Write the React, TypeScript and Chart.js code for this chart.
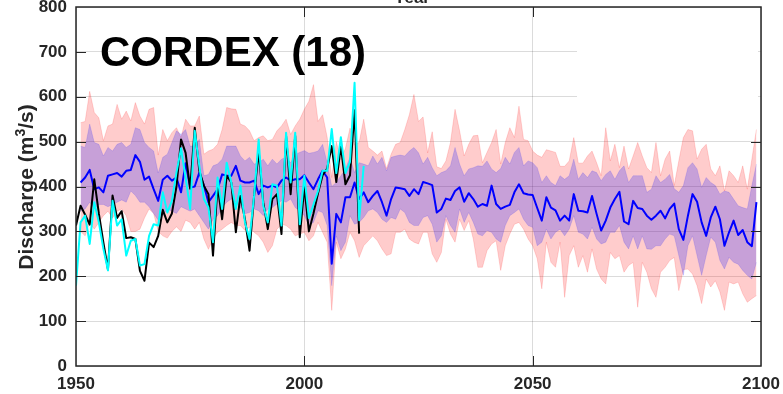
import React, { useEffect, useRef } from "react";
import { Chart, registerables } from "chart.js";

Chart.register(...registerables);

// ---- Data ----
const modelStartYear = 1951; // ensemble statistics 1951-2099
const obsStartYear = 1950; // observed series

const xTickValues = [1950, 2000, 2050, 2100];
const yTickValues = [0, 100, 200, 300, 400, 500, 600, 700, 800];

// ensemble maximum (pink band, upper edge)
const pinkUpper = [
  542, 545, 612, 565, 553, 502, 535, 539, 583, 550,
  568, 546, 587, 557, 539, 572, 576, 470, 527, 502,
  520, 531, 509, 550, 535, 535, 557, 472, 479, 483,
  494, 527, 576, 573, 572, 539, 535, 524, 502, 509,
  513, 502, 505, 524, 535, 550, 516, 535, 550, 572,
  590, 627, 545, 560, 510, 420, 500, 460, 485, 530,
  494, 498, 550, 487, 479, 470, 479, 440, 472, 494,
  498, 527, 560, 605, 545, 555, 475, 522, 444, 440,
  457, 498, 572, 524, 468, 494, 513, 514, 453, 476,
  498, 527, 450, 498, 531, 509, 579, 505, 502, 479,
  470, 465, 482, 479, 476, 445, 445, 457, 509, 452,
  452, 468, 479, 453, 424, 531, 457, 494, 442, 490,
  439, 468, 498, 468, 442, 431, 498, 424, 461, 479,
  402, 457, 509, 527, 524, 461, 483, 494, 439, 424,
  446, 390, 435, 424, 409, 446, 394, 461, 527,
];

// ensemble minimum (pink band, lower edge)
const pinkLower = [
  300, 290, 320, 305, 320, 335, 345, 330, 345, 350,
  335, 300, 300, 305, 330, 350, 340, 300, 290, 285,
  300, 310, 300, 325, 320, 305, 320, 283, 260, 283,
  298, 305, 313, 320, 313, 313, 302, 309, 298, 290,
  276, 253, 268, 305, 316, 313, 305, 290, 294, 298,
  279, 290, 320, 298, 276, 124, 276, 239, 261, 298,
  279, 242, 268, 279, 290, 279, 261, 246, 250, 298,
  298, 305, 283, 276, 272, 298, 298, 250, 231, 253,
  327, 294, 276, 327, 302, 324, 283, 220, 220, 257,
  272, 279, 213, 268, 294, 316, 320, 305, 283, 268,
  239, 172, 276, 231, 220, 276, 153, 246, 268, 220,
  246, 209, 261, 216, 194, 183, 253, 239, 246, 209,
  224, 231, 131, 231, 209, 172, 153, 209, 220, 235,
  242, 168, 215, 216, 205, 179, 139, 194, 176, 190,
  165, 124, 187, 183, 187, 161, 142, 150, 157,
];

// inner range (purple band, upper edge)
const purpleUpper = [
  490, 487, 539, 498, 494, 468, 487, 479, 494, 498,
  487, 494, 531, 527, 498, 487, 479, 430, 465, 472,
  498, 524, 516, 527, 490, 490, 505, 424, 427, 446,
  450, 461, 490, 490, 490, 468, 457, 465, 450, 453,
  461, 446, 461, 450, 461, 465, 453, 472, 476, 480,
  474, 476, 479, 494, 453, 400, 409, 424, 439, 465,
  431, 453, 450, 446, 468, 450, 465, 435, 465, 468,
  470, 468, 479, 487, 475, 450, 465, 442, 424, 431,
  435, 446, 487, 450, 424, 439, 442, 446, 445, 457,
  439, 431, 440, 465, 450, 476, 487, 446, 457, 453,
  442, 409, 424, 409, 402, 424, 416, 424, 461, 416,
  431, 420, 435, 431, 413, 427, 435, 416, 435, 446,
  409, 424, 424, 424, 387, 394, 424, 409, 416, 427,
  395, 387, 402, 442, 453, 439, 398, 420, 409, 402,
  383, 390, 387, 372, 357, 353, 350, 402, 450,
];

// inner range (purple band, lower edge)
const purpleLower = [
  345, 350, 365, 350, 360, 360, 355, 360, 365, 370,
  365, 390, 380, 365, 365, 355, 340, 325, 335, 350,
  345, 340, 355, 350, 345, 350, 335, 320, 305, 327,
  335, 353, 365, 372, 365, 353, 339, 342, 350, 346,
  335, 350, 353, 361, 368, 365, 372, 353, 346, 335,
  313, 320, 346, 342, 313, 179, 290, 257, 276, 335,
  316, 320, 331, 346, 350, 342, 327, 320, 331, 327,
  350, 342, 320, 313, 313, 331, 335, 316, 276, 290,
  335, 313, 298, 350, 320, 342, 320, 294, 290, 302,
  298, 283, 276, 313, 335, 342, 350, 327, 313, 309,
  268, 276, 305, 283, 298, 305, 290, 305, 335, 298,
  294, 283, 309, 283, 272, 276, 298, 298, 313, 276,
  261, 290, 261, 290, 261, 260, 268, 268, 283, 294,
  290, 246, 202, 268, 290, 246, 202, 246, 287, 276,
  235, 216, 242, 231, 227, 213, 202, 194, 231,
];

// ensemble mean (blue line)
const ensembleMean = [
  409, 420, 437, 394, 398, 387, 424, 427, 430, 422,
  435, 437, 470, 455, 415, 422, 394, 368, 415, 424,
  413, 420, 387, 452, 398, 400, 431, 402, 365, 379,
  394, 427, 424, 424, 446, 413, 409, 409, 413, 383,
  402, 398, 402, 398, 413, 420, 413, 416, 416, 425,
  409, 394, 416, 435, 420, 228, 339, 320, 376, 376,
  409, 372, 387, 365, 379, 390, 365, 335, 372, 398,
  396, 394, 379, 394, 383, 410, 407, 403, 342, 350,
  373, 370, 390, 398, 366, 385, 372, 355, 361, 357,
  402, 361, 350, 355, 359, 387, 405, 385, 382, 381,
  352, 324, 376, 353, 347, 324, 335, 324, 383, 346,
  345, 342, 379, 339, 302, 324, 353, 372, 388, 322,
  316, 368, 352, 350, 335, 326, 335, 346, 329, 350,
  362, 305, 281, 335, 383, 366, 320, 290, 331, 355,
  327, 268, 298, 324, 292, 303, 276, 267, 365,
];

// observed discharge (black line) 1950-2012
const observedBlack = [
  313, 357, 337, 315, 416, 340, 275, 215, 380, 330,
  345, 285, 287, 283, 212, 190, 275, 265, 290, 348,
  320, 340, 400, 505, 475, 395, 531, 435, 402, 383,
  246, 402, 327, 424, 409, 298, 379, 327, 257, 379,
  479, 365, 305, 372, 383, 294, 513, 383, 513, 287,
  400, 300, 340, 385, 425, 440, 490, 410, 490, 405,
  425, 570, 295,
];

// second reference series (cyan line) 1950-2013
const observedCyan = [
  179, 320, 335, 272, 365, 320, 261, 213, 368, 313,
  327, 246, 279, 283, 224, 227, 290, 316, 313, 387,
  342, 368, 431, 485, 420, 350, 524, 446, 372, 353,
  276, 420, 350, 453, 409, 350, 402, 320, 283, 379,
  505, 357, 320, 405, 402, 313, 520, 409, 520, 316,
  424, 330, 360, 390, 435, 435, 528, 430, 510, 430,
  455, 631, 325, 446,
];

const FONT = '"Liberation Sans", Arial, Helvetica, sans-serif';
const AXIS_COLOR = "#262626";

const toPoints = (start: number, values: number[]) =>
  values.map((v, i) => ({ x: start + i, y: v }));

const overlayPlugin = {
  id: "overlayPlugin",
  beforeDatasetsDraw(chart: any) {
    const { ctx } = chart;
    ctx.save();
    ctx.fillStyle = "#ffffff";
    ctx.fillRect(577, 8, 181, 111);
    ctx.restore();
  },
  afterDraw(chart: any) {
    const { ctx, chartArea: ca, scales } = chart;
    const xs = scales.x;
    const ys = scales.y;
    ctx.save();
    ctx.strokeStyle = AXIS_COLOR;
    ctx.lineWidth = 1;
    const tl = 10;
    ctx.beginPath();
    for (const v of yTickValues) {
      if (v <= 0 || v >= 800) continue;
      const py = Math.round(ys.getPixelForValue(v)) + 0.5;
      ctx.moveTo(ca.left, py);
      ctx.lineTo(ca.left + tl, py);
      if (py > 125) {
        ctx.moveTo(ca.right, py);
        ctx.lineTo(ca.right - tl, py);
      }
    }
    for (const v of xTickValues) {
      if (v <= 1950 || v >= 2100) continue;
      const px = Math.round(xs.getPixelForValue(v)) + 0.5;
      ctx.moveTo(px, ca.bottom);
      ctx.lineTo(px, ca.bottom - tl);
      ctx.moveTo(px, ca.top);
      ctx.lineTo(px, ca.top + tl);
    }
    ctx.stroke();

    ctx.lineWidth = 1.5;
    ctx.strokeRect(ca.left, ca.top, ca.right - ca.left, ca.bottom - ca.top);

    // big label
    ctx.fillStyle = "#000000";
    ctx.font = `bold 42px ${FONT}`;
    ctx.textAlign = "left";
    ctx.textBaseline = "alphabetic";
    ctx.fillText("CORDEX (18)", 100, 66);

    // x-axis title (top, mostly cut off)
    ctx.fillStyle = AXIS_COLOR;
    ctx.font = `bold 17px ${FONT}`;
    ctx.textAlign = "center";
    ctx.fillText("Year", 412, 2.5);

    // y-axis title with superscript
    ctx.translate(33, 187);
    ctx.rotate(-Math.PI / 2);
    const mainFont = `bold 21px ${FONT}`;
    const supFont = `bold 14px ${FONT}`;
    const p1 = "Discharge (m";
    const p2 = "3";
    const p3 = "/s)";
    ctx.font = mainFont;
    const w1 = ctx.measureText(p1).width;
    const w3 = ctx.measureText(p3).width;
    ctx.font = supFont;
    const w2 = ctx.measureText(p2).width;
    const total = w1 + w2 + w3;
    let x0 = -total / 2;
    ctx.textAlign = "left";
    ctx.font = mainFont;
    ctx.fillText(p1, x0, 0);
    x0 += w1;
    ctx.font = supFont;
    ctx.fillText(p2, x0, -8);
    x0 += w2;
    ctx.font = mainFont;
    ctx.fillText(p3, x0, 0);
    ctx.restore();
  },
};

export default function App() {
  const canvasRef = useRef<HTMLCanvasElement | null>(null);

  useEffect(() => {
    const canvas = canvasRef.current;
    if (!canvas) return;

    const gridColor = "rgba(0,0,0,0.14)";
    const tickFont = { family: FONT, size: 17, weight: "bold" as const };

    const chart = new Chart(canvas, {
      type: "line",
      data: {
        datasets: [
          {
            label: "max",
            data: toPoints(modelStartYear, pinkUpper),
            borderColor: "rgba(255,0,0,0.22)",
            borderWidth: 0.7,
            backgroundColor: "rgba(255,0,0,0.2)",
            fill: "+1",
            pointRadius: 0,
            order: 5,
          },
          {
            label: "min",
            data: toPoints(modelStartYear, pinkLower),
            borderColor: "rgba(255,0,0,0.22)",
            borderWidth: 0.7,
            fill: false,
            pointRadius: 0,
            order: 5,
          },
          {
            label: "upper",
            data: toPoints(modelStartYear, purpleUpper),
            borderColor: "rgba(0,0,255,0.18)",
            borderWidth: 0.7,
            backgroundColor: "rgba(0,0,255,0.22)",
            fill: "+1",
            pointRadius: 0,
            order: 4,
          },
          {
            label: "lower",
            data: toPoints(modelStartYear, purpleLower),
            borderColor: "rgba(0,0,255,0.18)",
            borderWidth: 0.7,
            fill: false,
            pointRadius: 0,
            order: 4,
          },
          {
            label: "mean",
            data: toPoints(modelStartYear, ensembleMean),
            borderColor: "#0000ff",
            borderWidth: 2,
            fill: false,
            pointRadius: 0,
            borderJoinStyle: "round",
            order: 2,
          },
          {
            label: "observed",
            data: toPoints(obsStartYear, observedBlack),
            borderColor: "#000000",
            borderWidth: 2,
            fill: false,
            pointRadius: 0,
            borderJoinStyle: "round",
            order: 1,
          },
          {
            label: "reference",
            data: toPoints(obsStartYear, observedCyan),
            borderColor: "#00ffff",
            borderWidth: 2,
            fill: false,
            pointRadius: 0,
            borderJoinStyle: "round",
            order: 0,
          },
        ],
      },
      options: {
        responsive: false,
        animation: false,
        events: [],
        layout: { padding: { top: 7, right: 22, left: 0, bottom: 0 } },
        plugins: {
          legend: { display: false },
          tooltip: { enabled: false },
          title: { display: false },
        },
        elements: { line: { tension: 0 }, point: { radius: 0 } },
        scales: {
          x: {
            type: "linear",
            min: 1950,
            max: 2100,
            afterFit: (s: any) => {
              s.height = 28;
              s.paddingLeft = 0;
              s.paddingRight = 0;
            },
            afterBuildTicks: (s: any) => {
              s.ticks = xTickValues.map((v) => ({ value: v }));
            },
            ticks: {
              padding: 8,
              color: AXIS_COLOR,
              font: tickFont,
              maxRotation: 0,
              autoSkip: false,
              callback: (v: any) => String(v),
            },
            grid: { color: gridColor, lineWidth: 1, drawTicks: false },
            border: { display: false },
          },
          y: {
            type: "linear",
            min: 0,
            max: 800,
            afterFit: (s: any) => {
              s.width = 76;
              s.paddingTop = 0;
              s.paddingBottom = 0;
            },
            afterBuildTicks: (s: any) => {
              s.ticks = yTickValues.map((v) => ({ value: v }));
            },
            ticks: {
              padding: 9,
              color: AXIS_COLOR,
              font: tickFont,
              callback: (v: any) => String(v),
            },
            grid: { color: gridColor, lineWidth: 1, drawTicks: false },
            border: { display: false },
          },
        },
      },
      plugins: [overlayPlugin],
    });

    return () => {
      chart.destroy();
    };
  }, []);

  return (
    <div
      style={{
        position: "fixed",
        left: 0,
        top: 0,
        width: 783,
        height: 394,
        background: "#ffffff",
      }}
    >
      <canvas ref={canvasRef} width={783} height={394} style={{ display: "block" }} />
    </div>
  );
}
